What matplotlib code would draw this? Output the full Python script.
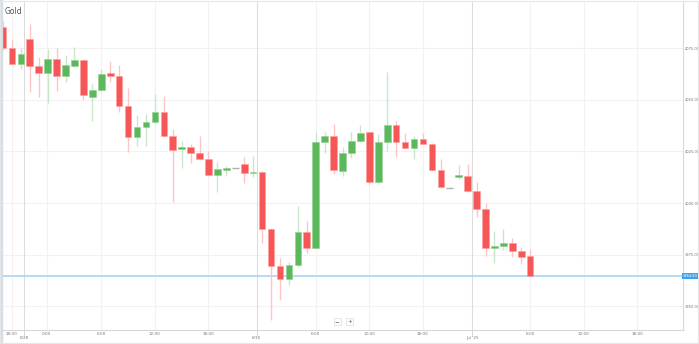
import matplotlib
matplotlib.use("Agg")
import matplotlib.pyplot as plt
import numpy as np

# hourly gold candles
opens = [4085.2, 4075.0, 4067.4, 4079.5, 4066.6, 4062.9, 4069.7, 4061.6, 4066.6, 4069.2,
         4051.6, 4054.8, 4062.9, 4061.6, 4047.2, 4031.9, 4037.0, 4039.4, 4044.0, 4032.7,
         4026.2, 4027.3, 4024.1, 4021.2, 4013.6, 4016.2, 4017.0, 4018.8, 4014.6, 4015.2,
         3987.3, 3969.7, 3963.2, 3970.0, 3985.9, 3978.4, 4029.7, 4032.5, 4015.7, 4024.1,
         4030.1, 4034.3, 4010.1, 4029.7, 4037.7, 4029.5, 4026.5, 4030.9, 4028.6, 4016.0,
         4007.5, 4012.5, 4013.3, 4006.0, 3997.0, 3978.1, 3979.4, 3980.8, 3976.9, 3974.4]
highs = [4088.4, 4079.0, 4075.0, 4086.6, 4070.6, 4074.5, 4075.0, 4071.8, 4075.8, 4069.7,
         4057.7, 4065.0, 4068.8, 4066.9, 4055.6, 4042.7, 4043.0, 4052.9, 4051.9, 4035.9,
         4030.1, 4028.5, 4032.5, 4025.4, 4019.8, 4018.1, 4017.0, 4022.5, 4022.8, 4015.6,
         3987.8, 3973.5, 3971.6, 3998.6, 3991.5, 4034.3, 4034.6, 4038.3, 4027.3, 4034.6,
         4037.7, 4034.6, 4033.5, 4063.7, 4039.8, 4034.1, 4032.5, 4034.1, 4029.3, 4021.4,
         4007.5, 4018.5, 4018.8, 4010.1, 4000.0, 3986.5, 3987.3, 3983.0, 3978.9, 3977.6]
lows = [4074.2, 4066.9, 4065.0, 4054.0, 4051.6, 4048.6, 4054.3, 4058.8, 4066.1, 4050.0,
        4039.9, 4054.5, 4058.8, 4044.3, 4024.9, 4027.8, 4027.8, 4038.3, 4032.2, 4000.7,
        4017.2, 4019.3, 4020.9, 4013.1, 4005.5, 4013.3, 4017.0, 4009.9, 4012.8, 3980.5,
        3943.4, 3953.1, 3960.3, 3969.2, 3975.7, 3978.1, 4024.4, 4014.1, 4013.1, 4021.7,
        4029.7, 4009.3, 4009.6, 4025.4, 4022.5, 4026.5, 4021.2, 4028.6, 4015.6, 4007.2,
        4007.5, 4011.7, 4005.5, 3993.4, 3974.4, 3970.8, 3977.3, 3973.7, 3970.5, 3964.7]
closes = [4075.0, 4067.4, 4072.2, 4066.6, 4062.9, 4069.7, 4061.6, 4066.8, 4069.2, 4052.4,
          4054.8, 4062.5, 4061.6, 4047.2, 4031.9, 4037.0, 4039.4, 4044.0, 4032.5, 4025.7,
          4027.3, 4024.1, 4021.2, 4013.6, 4016.4, 4016.9, 4017.0, 4014.4, 4015.2, 3987.3,
          3969.7, 3963.2, 3970.0, 3985.9, 3978.4, 4029.7, 4032.5, 4016.0, 4024.1, 4030.1,
          4034.1, 4010.1, 4029.7, 4037.7, 4029.5, 4026.5, 4030.9, 4028.6, 4016.0, 4007.7,
          4007.5, 4013.5, 4006.0, 3997.0, 3978.1, 3979.4, 3980.8, 3976.9, 3974.0, 3964.8]
last_price = 3964.80

time_pos = [1.0, 4.9, 11, 17, 23, 35, 41, 47, 59, 65, 71]
time_labels = ["18:00", "0:00", "6:00", "12:00", "18:00", "6:00", "12:00", "18:00",
               "6:00", "12:00", "18:00"]
date_pos = [2.4, 28.4, 52.5]
date_labels = ["6/28", "6/30", "Jul '25"]
price_ticks = [3950, 3975, 4000, 4025, 4050, 4075]

red = "#f65656"
green = "#5cb85c"
red_wick = "#ffc4c4"
green_wick = "#c9e6c9"

fig = plt.figure(figsize=(6.99, 3.44), dpi=100)
ax = fig.add_axes([1 / 699, 14 / 344, 682 / 699, 328 / 344])

x = np.arange(len(opens))
o = np.array(opens)
h = np.array(highs)
l = np.array(lows)
c = np.array(closes)
up = c > o
down = c < o
flat = c == o

ax.vlines(x[up], l[up], h[up], color=green_wick, lw=1, zorder=2)
ax.vlines(x[down], l[down], h[down], color=red_wick, lw=1, zorder=2)
ax.bar(x[up], c[up] - o[up], bottom=o[up], width=0.74, color=green,
       edgecolor="#8fd08f", linewidth=0.4, zorder=3)
ax.bar(x[down], o[down] - c[down], bottom=c[down], width=0.74, color=red,
       edgecolor="#ff9c9c", linewidth=0.4, zorder=3)
ax.hlines(o[flat], x[flat] - 0.37, x[flat] + 0.37, color="#b0b0b0", lw=1, zorder=3)

# last price line
ax.axhline(last_price, color="#a8d4f5", lw=1.2, zorder=1)
ax.text(1.0, last_price, f"{last_price:.2f}", transform=ax.get_yaxis_transform(),
        fontsize=2.6, color="white", va="center", ha="left",
        bbox=dict(boxstyle="square,pad=0.25", fc="#3ea1ec", ec="none"), clip_on=False)

ax.set_xlim(-0.22, 76.1)
ax.set_ylim(3938.5, 4097.4)

ax.yaxis.tick_right()
ax.set_yticks(price_ticks)
ax.set_yticklabels([f"{v:.2f}" for v in price_ticks])
ax.tick_params(axis="y", length=0, pad=1.2, labelsize=2.6, labelcolor="#777777")

ax.set_xticks(time_pos)
ax.set_xticklabels(time_labels)
ax.set_xticks(date_pos, minor=True)
ax.set_xticklabels(date_labels, minor=True)
ax.tick_params(axis="x", which="major", length=0, pad=1.5, labelsize=3.0,
               labelcolor="#777777")
ax.tick_params(axis="x", which="minor", length=4, width=0.6, color="#d0d0d0",
               pad=0.5, labelsize=3.0, labelcolor="#777777")

for p in price_ticks:
    ax.axhline(p, color="#f2f2f2", lw=0.8, zorder=0)
for p in time_pos:
    ax.axvline(p, color="#f2f2f2", lw=0.8, zorder=0)
for p in date_pos:
    ax.axvline(p, color="#dcdcdc", lw=0.8, zorder=0)

for side in ["top", "left"]:
    ax.spines[side].set_visible(False)
ax.spines["right"].set_color("#d8d8d8")
ax.spines["bottom"].set_color("#d8d8d8")
ax.spines["right"].set_linewidth(0.8)
ax.spines["bottom"].set_linewidth(0.8)

ax.text(0.006, 0.985, "Gold", transform=ax.transAxes, fontsize=5.5, color="#555555",
        va="top", ha="left")

# zoom buttons
for xb, s in [(37.4, "\u2212"), (38.8, "+")]:
    ax.text(xb, 3942.5, s, fontsize=4, color="#555555", ha="center", va="center",
            bbox=dict(boxstyle="square,pad=0.2", fc="white", ec="#dddddd", lw=0.5))

# left edge strip and outer frame
fig.patches.append(plt.Rectangle((0, 0), 1.5 / 699, 1, transform=fig.transFigure,
                                 color="#d5dde6"))
fig.patches.append(plt.Rectangle((0, 0.003), 0.999, 0.994, transform=fig.transFigure,
                                 fill=False, ec="#e6e6e6", lw=0.8))

fig.savefig("out.png", dpi=100)
